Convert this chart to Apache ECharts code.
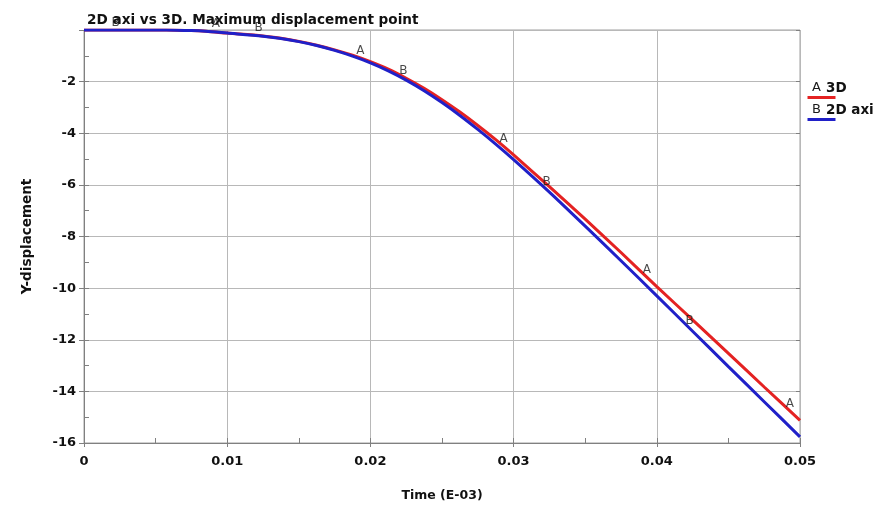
<!DOCTYPE html>
<html>
<head>
<meta charset="utf-8">
<script src="https://cdn.jsdelivr.net/npm/echarts@6/dist/echarts.min.js"></script>
<style>
  html, body { margin: 0; padding: 0; background: #fff; }
  #chart { width: 890px; height: 509px; }
</style>
</head>
<body>
<div id="chart"></div>
<script>
// Time samples (E-03) shared by both curves
const times = [0, 0.0025, 0.005, 0.0065, 0.0075, 0.0085, 0.01, 0.0125, 0.01375, 0.015,
  0.01625, 0.0175, 0.01875, 0.02, 0.02125, 0.0225, 0.02375, 0.025, 0.02625, 0.0275, 0.02875,
  0.03, 0.0325, 0.035, 0.0375, 0.04, 0.0425, 0.045, 0.0475, 0.05];

// Y-displacement of the maximum displacement point
const disp3D = [0, 0, 0, -0.005, -0.02, -0.05, -0.12, -0.23, -0.32, -0.44,
  -0.59, -0.77, -0.98, -1.23, -1.52, -1.87, -2.26, -2.70, -3.18, -3.70, -4.25,
  -4.84, -6.07, -7.33, -8.62, -9.94, -11.23, -12.53, -13.83, -15.12];
const disp2D = [0, 0, 0, -0.005, -0.02, -0.05, -0.12, -0.24, -0.33, -0.45,
  -0.60, -0.79, -1.01, -1.27, -1.58, -1.94, -2.35, -2.81, -3.31, -3.85, -4.42,
  -5.02, -6.28, -7.60, -8.94, -10.30, -11.67, -13.04, -14.40, -15.76];

// Curve identifier letters placed along each curve
const markA_t = [0.0092, 0.0193, 0.0293, 0.0393, 0.0493];
const markA_v = [-0.06, -1.09, -4.51, -9.57, -14.76];
const markB_t = [0.0022, 0.0122, 0.0223, 0.0323, 0.0423];
const markB_v = [0, -0.22, -1.89, -6.18, -11.57];

const xTicks = [0, 0.01, 0.02, 0.03, 0.04, 0.05];
const yTicks = [-16, -14, -12, -10, -8, -6, -4, -2];

const RED = '#e42222';
const BLUE = '#2020c8';
const FONT = "'DejaVu Sans', sans-serif";

const zip = (a, b) => a.map((t, i) => [t, b[i]]);

const chart = echarts.init(document.getElementById('chart'), null, { renderer: 'canvas' });

const letterSeries = (name, t, v) => ({
  type: 'scatter',
  name: name,
  data: zip(t, v),
  symbolSize: 1,
  itemStyle: { color: 'rgba(0,0,0,0)' },
  silent: true,
  z: 5,
  label: {
    show: true,
    formatter: name,
    position: 'top',
    distance: 1,
    color: '#1a1a1a',
    fontFamily: FONT,
    fontSize: 12
  }
});

// Extra tick-only axis (minor ticks / right border ticks)
const tickAxis = (extra) => Object.assign({
  type: 'value',
  axisLine: { show: false, onZero: false },
  axisLabel: { show: false },
  splitLine: { show: false }
}, extra);

chart.setOption({
  animation: false,
  backgroundColor: '#ffffff',
  title: {
    text: '2D axi vs 3D. Maximum displacement point',
    left: 82,
    top: 8,
    textStyle: { fontFamily: FONT, fontSize: 13.6, fontWeight: 'bold', color: '#111' }
  },
  grid: {
    left: 84, right: 90, top: 30, bottom: 66,
    show: true, borderColor: '#a0a0a0', borderWidth: 1, backgroundColor: 'transparent'
  },
  xAxis: [{
    type: 'value',
    min: 0, max: 0.05, interval: 0.01,
    name: 'Time (E-03)',
    nameLocation: 'middle',
    nameGap: 46,
    nameTextStyle: { fontFamily: FONT, fontSize: 12.5, fontWeight: 'bold', color: '#111' },
    axisLine: { show: true, onZero: false, lineStyle: { color: '#808080', width: 1 } },
    axisTick: { show: true, inside: false, length: 4, lineStyle: { color: '#808080' } },
    axisLabel: {
      margin: 12, fontFamily: FONT, fontSize: 13, fontWeight: 'bold', color: '#111',
      formatter: v => xTicks.includes(+v.toFixed(3)) ? String(+v.toFixed(3)) : ''
    },
    splitLine: { show: true, lineStyle: { color: '#b8b8b8', width: 1 } }
  }, tickAxis({
    min: 0, max: 0.05, interval: 0.005,
    position: 'bottom',
    axisTick: { show: true, inside: true, length: 5, lineStyle: { color: '#808080' } }
  })],
  yAxis: [{
    type: 'value',
    min: -16, max: 0, interval: 2,
    name: 'Y-displacement',
    nameLocation: 'middle',
    nameGap: 50,
    nameRotate: 90,
    nameTextStyle: { fontFamily: FONT, fontSize: 13.5, fontWeight: 'bold', color: '#111' },
    axisLine: { show: true, onZero: false, lineStyle: { color: '#808080', width: 1 } },
    axisTick: { show: true, inside: false, length: 5, lineStyle: { color: '#808080' } },
    axisLabel: {
      margin: 8, fontFamily: FONT, fontSize: 13, fontWeight: 'bold', color: '#111',
      formatter: v => yTicks.includes(v) ? String(v) : ''
    },
    splitLine: { show: true, lineStyle: { color: '#b8b8b8', width: 1 } }
  }, tickAxis({
    min: -16, max: 0, interval: 1,
    position: 'left',
    axisTick: { show: true, inside: true, length: 5, lineStyle: { color: '#808080' } }
  }), tickAxis({
    min: -16, max: 0, interval: 2,
    position: 'right',
    axisTick: { show: true, inside: true, length: 4, lineStyle: { color: '#808080' } }
  })],
  series: [{
    type: 'line',
    name: '3D',
    data: zip(times, disp3D),
    smooth: 0.3,
    showSymbol: false,
    lineStyle: { color: RED, width: 3 },
    itemStyle: { color: RED },
    z: 3
  }, {
    type: 'line',
    name: '2D axi',
    data: zip(times, disp2D),
    smooth: 0.3,
    showSymbol: false,
    lineStyle: { color: BLUE, width: 3 },
    itemStyle: { color: BLUE },
    z: 4
  },
    letterSeries('A', markA_t, markA_v),
    letterSeries('B', markB_t, markB_v)
  ],
  graphic: [
    { type: 'line', left: 805, top: 95, shape: { x1: 0, y1: 0, x2: 28, y2: 0 }, style: { stroke: RED, lineWidth: 3 } },
    { type: 'text', left: 812, top: 81, style: { text: 'A', fill: '#1a1a1a', font: '13px ' + FONT } },
    { type: 'text', left: 826, top: 81, style: { text: '3D', fill: '#111', font: 'bold 13.5px ' + FONT } },
    { type: 'line', left: 805, top: 117, shape: { x1: 0, y1: 0, x2: 28, y2: 0 }, style: { stroke: BLUE, lineWidth: 3 } },
    { type: 'text', left: 812, top: 103, style: { text: 'B', fill: '#1a1a1a', font: '13px ' + FONT } },
    { type: 'text', left: 826, top: 103, style: { text: '2D axi', fill: '#111', font: 'bold 13.5px ' + FONT } }
  ]
});
</script>
</body>
</html>
